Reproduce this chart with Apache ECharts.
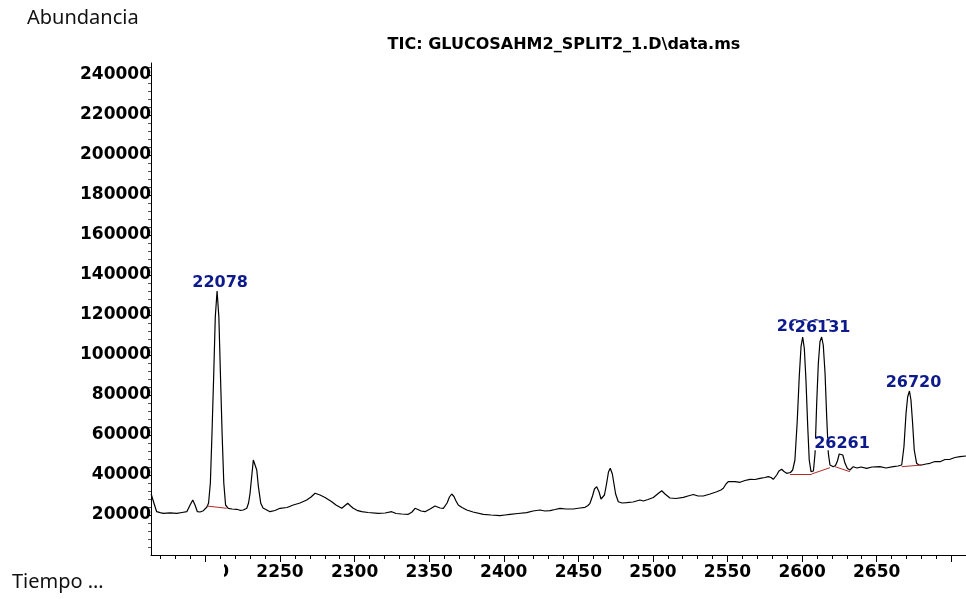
<!DOCTYPE html>
<html>
<head>
<meta charset="utf-8">
<script src="https://cdn.jsdelivr.net/npm/echarts@6/dist/echarts.min.js"></script>
<style>
html, body { margin: 0; padding: 0; background: #fff; }
#chart { width: 966px; height: 599px; }
</style>
</head>
<body>
<div id="chart"></div>
<script>
// Total ion chromatogram: retention time (axis units, min x 100) and abundance
const retentionTime = [
  2163.6, 2165.5, 2167.3, 2169.6, 2171.8, 2176.3, 2180.8, 2184.3, 2187.5, 2189.7,
  2191.5, 2193.0, 2194.6, 2196.4, 2198.6, 2201.0, 2202.1, 2203.3, 2204.4, 2205.5,
  2206.6, 2207.8, 2209.0, 2210.1, 2211.2, 2212.3, 2213.5, 2215.3, 2217.8, 2221.0,
  2223.2, 2225.4, 2227.7, 2228.9, 2229.9, 2231.0, 2232.1, 2233.2, 2234.4, 2235.5,
  2237.1, 2238.6, 2239.9, 2243.3, 2246.6, 2250.0, 2254.7, 2258.9, 2263.4, 2267.9,
  2270.8, 2273.5, 2276.8, 2280.2, 2284.7, 2287.5, 2291.4, 2293.6, 2295.4, 2297.3,
  2299.1, 2301.6, 2304.8, 2309.0, 2315.9, 2320.4, 2324.9, 2327.8, 2331.6, 2336.0,
  2338.5, 2340.5, 2342.5, 2344.5, 2347.2, 2350.6, 2353.9, 2357.3, 2359.5, 2362.0,
  2363.6, 2365.1, 2366.6, 2368.0, 2369.5, 2372.0, 2375.2, 2379.4, 2386.3, 2391.4,
  2397.5, 2400.8, 2404.2, 2409.5, 2415.4, 2419.6, 2424.3, 2427.6, 2431.0, 2434.4,
  2437.7, 2441.7, 2446.6, 2451.1, 2454.5, 2456.5, 2457.8, 2459.5, 2460.8, 2462.3,
  2463.9, 2465.2, 2466.3, 2467.5, 2468.9, 2470.2, 2471.4, 2472.8, 2473.9, 2475.0,
  2476.8, 2479.3, 2482.4, 2486.6, 2491.3, 2493.6, 2496.7, 2500.3, 2502.7, 2505.9,
  2508.1, 2511.4, 2515.5, 2520.4, 2523.5, 2527.1, 2530.2, 2533.8, 2538.3, 2542.8,
  2545.6, 2547.2, 2549.0, 2550.5, 2553.0, 2555.0, 2558.4, 2561.7, 2565.1, 2568.4,
  2571.8, 2575.1, 2577.3, 2579.2, 2580.7, 2583.0, 2584.5, 2586.3, 2587.9, 2589.7,
  2590.8, 2592.2, 2593.7, 2595.2, 2596.8, 2598.1, 2599.3, 2600.4, 2601.5, 2602.6,
  2603.8, 2604.8, 2606.0, 2607.1, 2607.6, 2608.7, 2609.8, 2610.9, 2612.0, 2613.1,
  2614.2, 2615.4, 2616.5, 2617.6, 2618.7, 2620.9, 2622.4, 2623.7, 2624.9, 2626.1,
  2627.3, 2628.8, 2630.4, 2632.1, 2634.3, 2636.8, 2639.5, 2643.3, 2646.9, 2652.2,
  2656.2, 2661.1, 2664.3, 2666.8, 2668.3, 2669.7, 2670.8, 2672.0, 2673.0, 2674.1,
  2675.2, 2676.8, 2678.3, 2680.2, 2683.1, 2685.7, 2689.1, 2692.5, 2695.8, 2699.2,
  2702.5, 2705.9, 2709.9
];
const abundance = [
  30500, 25900, 21650, 21150, 20850, 21100, 20800, 21250, 21650, 25000,
  27500, 25000, 21650, 21500, 22150, 24000, 26000, 36000, 61000, 89000,
  119000, 132000, 119000, 89000, 60000, 36000, 25000, 23350, 23000, 22850,
  22350, 22500, 23350, 26000, 30850, 39150, 47500, 48400, 42500, 34150,
  25850, 23500, 22500, 21650, 22250, 23350, 23750, 25000, 26000, 27500,
  29000, 30850, 30000, 28750, 26650, 25000, 23350, 24750, 25850, 24500,
  23350, 22350, 21650, 21250, 20850, 21000, 21650, 20750, 20500, 20350,
  21500, 23350, 22750, 22000, 21650, 23000, 24500, 23500, 23350, 26000,
  29000, 30500, 29250, 27000, 25000, 23750, 22500, 21500, 20350, 20000,
  19650, 20000, 20350, 20750, 21150, 22000, 22500, 22000, 22150, 22750,
  23350, 23000, 23000, 23500, 23850, 24750, 25850, 29500, 33000, 34150,
  31500, 28000, 27500, 30000, 35500, 41500, 43350, 40500, 35500, 30500,
  26650, 26000, 26150, 26500, 27500, 27000, 27750, 28750, 30250, 32100,
  30500, 28500, 28250, 28850, 29500, 30250, 29500, 29500, 30500, 31650,
  32500, 33350, 35500, 36650, 36750, 36650, 36350, 37250, 37850, 37750,
  38350, 38750, 39150, 38750, 37850, 40000, 42000, 42850, 41750, 40850,
  41650, 41250, 42500, 47500, 67500, 89150, 104150, 109000, 103350, 87500,
  64150, 47500, 41650, 41000, 42000, 50850, 75850, 95850, 106650, 109000,
  105000, 90850, 69150, 50850, 45000, 44150, 44750, 47000, 50500, 51350,
  50000, 45850, 43250, 42500, 44150, 43500, 44000, 43350, 44000, 44150,
  43500, 44150, 44500, 45000, 54150, 70850, 79150, 82000, 77500, 65850,
  52500, 45850, 45000, 45000, 45500, 45850, 46750, 46650, 47750, 47850,
  48750, 49150, 49500
];

// Integrated peaks: apex retention time and abundance
const peakRT = [2207.8, 2600.4, 2613.1, 2626.1, 2672.0];
const peakAbundance = [132000, 109000, 109000, 51350, 82000];

// Integration baselines under each peak
const baseStartRT = [2200.9, 2591.9, 2606.4, 2622.1, 2666.8];
const baseStartAb = [24500, 40500, 40500, 44150, 44150];
const baseEndRT = [2214.3, 2606.4, 2618.7, 2632.1, 2680.2];
const baseEndAb = [23350, 40500, 43650, 41650, 45000];

// Axis ticks
const timeTickValues = [2200, 2250, 2300, 2350, 2400, 2450, 2500, 2550, 2600, 2650, 2700];
const timeLabelValues = [2200, 2250, 2300, 2350, 2400, 2450, 2500, 2550, 2600, 2650];
const abundanceTickValues = [20000, 40000, 60000, 80000, 100000, 120000, 140000,
  160000, 180000, 200000, 220000, 240000];

// Label placement relative to each apex (pixels)
const peakLabelOffset = [[3, -8], [2, -10], [1, -9], [1, -8], [4, -8]];
const peakLabelPadding = [[0, 1], [0, 1], [3, 1, 0, 1], [0, 1], [0, 1]];

const chart = echarts.init(document.getElementById('chart'), null, { renderer: 'canvas' });

const axisFont = { fontFamily: 'DejaVu Sans', fontWeight: 'bold', fontSize: 17, color: '#000' };

chart.setOption({
  animation: false,
  backgroundColor: '#fff',
  grid: { left: 151, right: 0, top: 63, bottom: 44, containLabel: false, outerBoundsMode: 'none' },
  xAxis: {
    type: 'value',
    min: 2163.5,
    max: 2709.9,
    minInterval: 50,
    maxInterval: 50,
    splitLine: { show: false },
    axisLine: { show: true, onZero: false, lineStyle: { color: '#000', width: 1 } },
    axisTick: { show: true, length: 7, customValues: timeTickValues, lineStyle: { color: '#000' } },
    minorTick: { show: true, splitNumber: 5, length: 4, lineStyle: { color: '#000' } },
    axisLabel: Object.assign({ margin: 9, customValues: timeLabelValues,
      formatter: v => String(v) }, axisFont)
  },
  yAxis: {
    type: 'value',
    min: 0,
    max: 246000,
    interval: 20000,
    splitLine: { show: false },
    axisLine: { show: true, onZero: false, lineStyle: { color: '#000', width: 1 } },
    axisTick: { show: true, length: 4, customValues: abundanceTickValues, lineStyle: { color: '#000' } },
    minorTick: { show: true, splitNumber: 5, length: 3, lineStyle: { color: '#555' } },
    axisLabel: Object.assign({ margin: 0, customValues: abundanceTickValues,
      formatter: v => String(v) }, axisFont)
  },
  series: [
    {
      name: 'TIC',
      type: 'line',
      data: retentionTime.map((t, i) => [t, abundance[i]]),
      showSymbol: false,
      symbol: 'none',
      lineStyle: { color: '#000', width: 1.2 },
      z: 3
    },
    {
      name: 'baseline',
      type: 'lines',
      coordinateSystem: 'cartesian2d',
      data: baseStartRT.map((t, i) => ({
        coords: [[t, baseStartAb[i]], [baseEndRT[i], baseEndAb[i]]]
      })),
      lineStyle: { color: '#b02a2a', width: 1, opacity: 1 },
      z: 4
    },
    {
      name: 'peaks',
      type: 'scatter',
      data: peakRT.map((t, i) => ({
        value: [t, peakAbundance[i]],
        label: { offset: peakLabelOffset[i], padding: peakLabelPadding[i] }
      })),
      symbolSize: 1,
      itemStyle: { color: 'transparent', opacity: 1 },
      label: {
        show: true,
        position: 'inside',
        formatter: p => String(Math.round(p.value[0] * 10)),
        fontFamily: 'DejaVu Sans',
        fontWeight: 'bold',
        fontSize: 16,
        lineHeight: 12,
        color: '#0d1a8c',
        opacity: 1,
        backgroundColor: '#fff'
      },
      emphasis: { disabled: true },
      z: 6
    }
  ],
  graphic: [
    {
      type: 'rect',
      shape: { x: 140, y: 563, width: 84, height: 22 },
      style: { fill: '#fff' },
      z: 100
    },
    {
      type: 'text',
      x: 27, y: 18,
      style: { text: 'Abundancia', font: '20px "Noto Sans"', fill: '#111',
        textAlign: 'left', textVerticalAlign: 'middle' },
      z: 100
    },
    {
      type: 'text',
      x: 564, y: 45,
      style: { text: 'TIC: GLUCOSAHM2_SPLIT2_1.D\\data.ms', font: 'bold 16px "DejaVu Sans"', fill: '#000',
        textAlign: 'center', textVerticalAlign: 'middle' },
      z: 100
    },
    {
      type: 'text',
      x: 12, y: 582,
      style: { text: 'Tiempo …', font: '20px "Noto Sans"', fill: '#111',
        textAlign: 'left', textVerticalAlign: 'middle' },
      z: 100
    }
  ]
});
</script>
</body>
</html>
